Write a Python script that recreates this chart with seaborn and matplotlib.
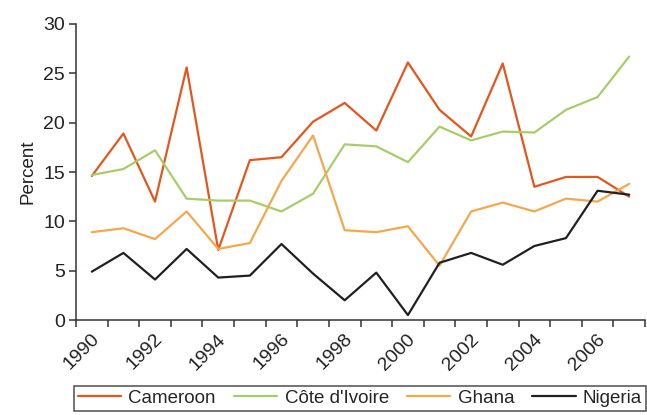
import matplotlib
import matplotlib.transforms as mtransforms
import numpy as np
import pandas as pd
import seaborn as sns

matplotlib.use("Agg")
import matplotlib.pyplot as plt

years = list(range(1990, 2008))
countries = ["Cameroon", "Côte d'Ivoire", "Ghana", "Nigeria"]
colors = ["#E2571E", "#A9CC6B", "#F2A84F", "#231F20"]

cameroon = [14.6, 18.9, 12.0, 25.6, 7.1, 16.2, 16.5, 20.1, 22.0, 19.2,
            26.1, 21.3, 18.6, 26.0, 13.5, 14.5, 14.5, 12.5]
cote_divoire = [14.7, 15.3, 17.2, 12.3, 12.1, 12.1, 11.0, 12.8, 17.8, 17.6,
                16.0, 19.6, 18.2, 19.1, 19.0, 21.3, 22.6, 26.7]
ghana = [8.9, 9.3, 8.2, 11.0, 7.2, 7.8, 14.1, 18.7, 9.1, 8.9,
         9.5, 5.5, 11.0, 11.9, 11.0, 12.3, 12.0, 13.8]
nigeria = [4.9, 6.8, 4.1, 7.2, 4.3, 4.5, 7.7, 4.7, 2.0, 4.8,
           0.5, 5.8, 6.8, 5.6, 7.5, 8.3, 13.1, 12.7]

rows = []
for name, vals in zip(countries, [cameroon, cote_divoire, ghana, nigeria]):
    for i, v in enumerate(vals):
        rows.append({"idx": i, "Year": years[i], "Country": name, "Percent": v})
df = pd.DataFrame(rows)

sns.set_theme(style="white")
plt.rcParams["font.family"] = ["Liberation Sans", "DejaVu Sans"]

fig = plt.figure(figsize=(6.47, 4.15), dpi=100)
ax = fig.add_axes([76 / 647, 1 - 320 / 415, 569 / 647, 296 / 415])

sns.lineplot(
    data=df, x="idx", y="Percent", hue="Country",
    hue_order=countries, palette=colors, linewidth=1.6, ax=ax, legend=False,
)

ax.set_xlim(-0.5, len(years) - 0.5)
ax.set_ylim(0, 30)
ax.set_yticks(np.arange(0, 31, 5))
ax.set_xticks(range(0, len(years), 2))
ax.set_xticklabels([str(y) for y in years[::2]], rotation=45, ha="right",
                   rotation_mode="anchor", va="center")
ax.set_xticks(np.arange(-0.5, len(years), 1), minor=True)
ax.tick_params(axis="x", which="major", length=0, pad=12, labelsize=14, colors="#222222")
ax.tick_params(axis="x", which="minor", length=5, width=1.1, color="#333333", direction="out", bottom=True)
ax.tick_params(axis="y", length=5, width=1.1, color="#333333", direction="out", left=True,
               pad=3, labelsize=14, labelcolor="#222222")
ax.set_xlabel("")
ax.set_ylabel("Percent", fontsize=13.5, color="#222222", labelpad=5)

# nudge the rotated year labels a little to the right
shift = mtransforms.ScaledTranslation(5 / 100, 0, fig.dpi_scale_trans)
for lbl in ax.get_xticklabels():
    lbl.set_transform(lbl.get_transform() + shift)

for s in ["top", "right"]:
    ax.spines[s].set_visible(False)
for s in ["left", "bottom"]:
    ax.spines[s].set_color("#333333")
    ax.spines[s].set_linewidth(1.1)

handles = [plt.Line2D([], [], color=c, lw=1.6) for c in colors]
leg = fig.legend(
    handles, countries, ncol=4, loc="upper left",
    bbox_to_anchor=(74 / 647, 1 - 386 / 415, 572 / 647, 0),
    mode="expand", fontsize=13.5, frameon=True, fancybox=False,
    handlelength=2.3, handletextpad=0.4, columnspacing=0.5,
    borderpad=0.2, borderaxespad=0,
)
leg.get_frame().set_edgecolor("#222222")
leg.get_frame().set_linewidth(1.1)

plt.savefig("out.png", dpi=100)
plt.close(fig)
